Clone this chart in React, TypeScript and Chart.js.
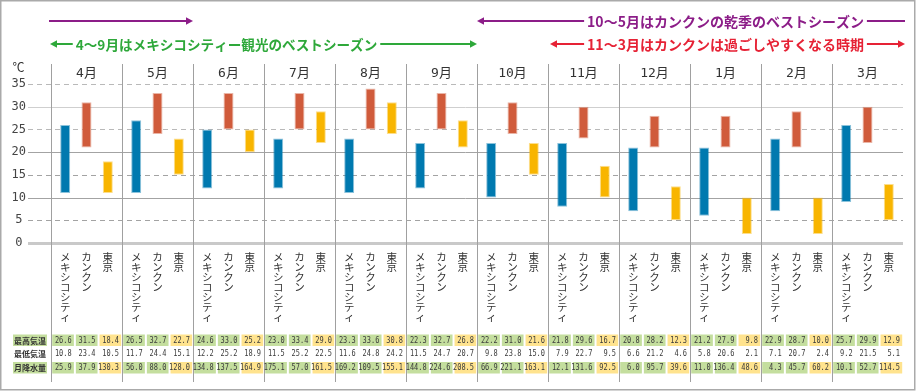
import { useEffect, useRef } from "react";
import { Chart, registerables } from "chart.js";

Chart.register(...registerables);

// ---- data ----
const months = ["4月", "5月", "6月", "7月", "8月", "9月", "10月", "11月", "12月", "1月", "2月", "3月"];
const cities = ["メキシコシティ", "カンクン", "東京"];
const yTicks = [0, 5, 10, 15, 20, 25, 30, 35];

// bar ranges (°C) as drawn
const mexicoLow = [11, 11, 12, 12, 11, 12, 10, 8, 7, 6, 7, 9];
const mexicoHigh = [26, 27, 25, 23, 23, 22, 22, 22, 21, 21, 23, 26];
const cancunLow = [21, 24, 25, 25, 25, 25, 24, 23, 21, 21, 21, 22];
const cancunHigh = [31, 33, 33, 33, 34, 33, 31, 30, 28, 28, 29, 30];
const tokyoLow = [11, 15, 20, 22, 24, 21, 15, 10, 5, 2, 2, 5];
const tokyoHigh = [18, 23, 25, 29, 31, 27, 22, 17, 12.5, 10, 10, 13];

// table values
const rowLabels = ["最高気温", "最低気温", "月降水量"];
const mexicoMax = [26.6, 26.5, 24.6, 23.0, 23.3, 22.3, 22.2, 21.8, 20.8, 21.2, 22.9, 25.7];
const cancunMax = [31.5, 32.7, 33.0, 33.4, 33.6, 32.7, 31.0, 29.6, 28.2, 27.9, 28.7, 29.9];
const tokyoMax = [18.4, 22.7, 25.2, 29.0, 30.8, 26.8, 21.6, 16.7, 12.3, 9.8, 10.0, 12.9];
const mexicoMin = [10.8, 11.7, 12.2, 11.5, 11.6, 11.5, 9.8, 7.9, 6.6, 5.8, 7.1, 9.2];
const cancunMin = [23.4, 24.4, 25.2, 25.2, 24.8, 24.7, 23.8, 22.7, 21.2, 20.6, 20.7, 21.5];
const tokyoMin = [10.5, 15.1, 18.9, 22.5, 24.2, 20.7, 15.0, 9.5, 4.6, 2.1, 2.4, 5.1];
const mexicoRain = [25.9, 56.0, 134.8, 175.1, 169.2, 144.8, 66.9, 12.1, 6.0, 11.0, 4.3, 10.1];
const cancunRain = [37.9, 88.0, 137.5, 57.0, 109.5, 224.6, 221.1, 131.6, 95.7, 136.4, 45.7, 52.7];
const tokyoRain = [130.3, 128.0, 164.9, 161.5, 155.1, 208.5, 163.1, 92.5, 39.6, 48.6, 60.2, 114.5];

const bannerPurple = "10〜5月はカンクンの乾季のベストシーズン";
const bannerGreen = "4〜9月はメキシコシティー観光のベストシーズン";
const bannerRed = "11〜3月はカンクンは過ごしやすくなる時期";

// ---- styles ----
const MONO = '"DejaVu Sans Mono", "Noto Sans CJK JP", monospace';
const JP = '"Noto Sans CJK JP", sans-serif';
const BLUE = "#0079AF";
const ORANGE = "#D05B3B";
const YELLOW = "#F8B500";
const CELL_GREEN = "#C4DE9E";
const CELL_YELLOW = "#FFE38E";
const PURPLE = "#8C1D88";
const GREEN = "#2EA83A";
const RED = "#E62235";

function arrowHead(ctx: CanvasRenderingContext2D, x: number, y: number, dir: number, color: string) {
  ctx.fillStyle = color;
  ctx.beginPath();
  ctx.moveTo(x, y);
  ctx.lineTo(x - dir * 7, y - 3.8);
  ctx.lineTo(x - dir * 7, y + 3.8);
  ctx.closePath();
  ctx.fill();
}

function banner(
  ctx: CanvasRenderingContext2D,
  x1: number,
  x2: number,
  y: number,
  color: string,
  text: string,
  cx: number,
  size: number,
  leftHead: boolean,
  rightHead: boolean
) {
  ctx.save();
  ctx.strokeStyle = color;
  ctx.lineWidth = 2;
  ctx.font = `bold ${size}px ${JP}`;
  const segs: [number, number][] = [];
  if (text) {
    const w = ctx.measureText(text).width;
    const tx = cx - w / 2;
    segs.push([x1 + (leftHead ? 4 : 0), tx - 3]);
    segs.push([tx + w + 3, x2 - (rightHead ? 4 : 0)]);
    ctx.fillStyle = color;
    ctx.textAlign = "center";
    ctx.textBaseline = "middle";
    ctx.fillText(text, cx, y + 1);
  } else {
    segs.push([x1 + (leftHead ? 4 : 0), x2 - (rightHead ? 4 : 0)]);
  }
  for (const [a, b] of segs) {
    ctx.beginPath();
    ctx.moveTo(a, y);
    ctx.lineTo(b, y);
    ctx.stroke();
  }
  if (leftHead) arrowHead(ctx, x1, y, -1, color);
  if (rightHead) arrowHead(ctx, x2, y, 1, color);
  ctx.restore();
}

const overlay = {
  id: "overlay",
  beforeDatasetsDraw(chart: any) {
    const ctx: CanvasRenderingContext2D = chart.ctx;
    const y = chart.scales.y;
    const x = chart.scales.x;
    const area = chart.chartArea;
    const colW = (area.right - area.left) / months.length;
    ctx.save();
    // horizontal grid lines
    for (const v of yTicks) {
      const py = Math.round(y.getPixelForValue(v)) + 0.5;
      ctx.beginPath();
      if (v === 0) {
        ctx.strokeStyle = "#c9c9c9";
        ctx.lineWidth = 3;
        ctx.setLineDash([]);
      } else if (v % 10 === 5) {
        ctx.strokeStyle = v >= 25 ? "#b9b9b9" : "#a3a3a3";
        ctx.lineWidth = 1;
        ctx.setLineDash([5, 4]);
      } else {
        ctx.strokeStyle = v >= 30 ? "#cfcfcf" : "#a3a3a3";
        ctx.lineWidth = 1;
        ctx.setLineDash([]);
      }
      ctx.moveTo(28, py);
      ctx.lineTo(area.right, py);
      ctx.stroke();
    }
    ctx.setLineDash([]);
    // month separators
    ctx.strokeStyle = "#a0a0a0";
    ctx.lineWidth = 1;
    for (let i = 0; i < months.length; i++) {
      const lx = Math.floor(x.getPixelForValue(i) - colW / 2) + 0.5;
      ctx.beginPath();
      ctx.moveTo(lx, 64);
      ctx.lineTo(lx, 382);
      ctx.stroke();
    }
    ctx.restore();
  },
  afterDraw(chart: any) {
    const ctx: CanvasRenderingContext2D = chart.ctx;
    const x = chart.scales.x;
    const area = chart.chartArea;
    const colW = (area.right - area.left) / months.length;
    const colLeft = (i: number) => x.getPixelForValue(i) - colW / 2;
    ctx.save();

    // banners
    banner(ctx, colLeft(0) - 2, colLeft(2), 21, PURPLE, "", 0, 14, false, true);
    banner(ctx, colLeft(6), area.right + 2, 21, PURPLE, bannerPurple, 725.5, 14, true, false);
    banner(ctx, colLeft(0) - 1, colLeft(6), 44, GREEN, bannerGreen, 226.5, 13.6, true, true);
    banner(ctx, colLeft(7) + 2, area.right + 2, 44, RED, bannerRed, 725.5, 14, true, true);

    // unit
    ctx.fillStyle = "#333";
    ctx.font = `12px ${JP}`;
    ctx.textAlign = "center";
    ctx.textBaseline = "middle";
    ctx.fillText("℃", 18.5, 67);

    // vertical city labels
    ctx.font = `10.5px ${JP}`;
    ctx.fillStyle = "#333";
    ctx.textAlign = "center";
    ctx.textBaseline = "top";
    for (let d = 0; d < cities.length; d++) {
      const meta = chart.getDatasetMeta(d);
      const chars = Array.from(cities[d]);
      for (let i = 0; i < months.length; i++) {
        const bx = meta.data[i].x;
        chars.forEach((ch, k) => ctx.fillText(ch, bx, 252 + k * 10));
      }
    }

    // table
    const rowTop = [334.5, 348, 362];
    const rowH = 11.5;
    const rows = [
      [mexicoMax, cancunMax, tokyoMax],
      [mexicoMin, cancunMin, tokyoMin],
      [mexicoRain, cancunRain, tokyoRain],
    ];
    for (let r = 0; r < 3; r++) {
      const top = rowTop[r];
      const cy = top + rowH / 2;
      if (r !== 1) {
        ctx.fillStyle = CELL_GREEN;
        ctx.fillRect(13, top, 34, rowH);
      }
      ctx.fillStyle = "#333";
      ctx.font = `bold 8px ${JP}`;
      ctx.textAlign = "center";
      ctx.textBaseline = "middle";
      ctx.fillText(rowLabels[r], 30, cy + 0.5);
      for (let i = 0; i < months.length; i++) {
        const left = colLeft(i);
        for (let c = 0; c < 3; c++) {
          const a = left + (c * colW) / 3 + 1.2;
          const b = left + ((c + 1) * colW) / 3 - 0.8;
          if (r !== 1) {
            ctx.fillStyle = c === 2 ? CELL_YELLOW : CELL_GREEN;
            ctx.fillRect(a, top, b - a, rowH);
          }
          ctx.save();
          ctx.translate(b - 2.2, cy + 0.5);
          ctx.scale(0.82, 1);
          ctx.fillStyle = "#3a3a3a";
          ctx.font = `8.5px ${MONO}`;
          ctx.textAlign = "right";
          ctx.textBaseline = "middle";
          ctx.fillText(rows[r][c][i].toFixed(1), 0, 0);
          ctx.restore();
        }
      }
    }

    // outer frame
    ctx.strokeStyle = "#aaaaaa";
    ctx.lineWidth = 1.5;
    ctx.strokeRect(0.75, 0.75, 914, 389);
    ctx.restore();
  },
};

export default function App() {
  const ref = useRef<HTMLCanvasElement>(null);
  useEffect(() => {
    const canvas = ref.current;
    if (!canvas) return;
    const mk = (label: string, lo: number[], hi: number[], color: string, edge: string) => ({
      label,
      data: lo.map((v, i) => [v, hi[i]]),
      backgroundColor: color,
      borderColor: edge,
      borderWidth: 1,
      borderSkipped: false,
      categoryPercentage: 0.9,
      barPercentage: 0.47,
    });
    const chart = new Chart(canvas, {
      type: "bar",
      data: {
        labels: months,
        datasets: [
          mk(cities[0], mexicoLow, mexicoHigh, BLUE, "rgba(0,121,175,0.45)"),
          mk(cities[1], cancunLow, cancunHigh, ORANGE, "rgba(208,91,59,0.45)"),
          mk(cities[2], tokyoLow, tokyoHigh, YELLOW, "rgba(248,181,0,0.45)"),
        ] as any,
      },
      options: {
        responsive: false,
        animation: false,
        devicePixelRatio: 1,
        layout: { padding: { left: 0, right: 15, top: 64, bottom: 148 } },
        plugins: { legend: { display: false }, tooltip: { enabled: false } },
        scales: {
          x: {
            position: "top",
            grid: { display: false, drawTicks: false },
            border: { display: false },
            ticks: {
              font: { family: MONO, size: 13 },
              color: "#333",
              padding: 3,
              maxRotation: 0,
              autoSkip: false,
            },
            afterFit: (s: any) => {
              s.height = 20;
            },
          },
          y: {
            min: 0,
            max: 35,
            grid: { display: false, drawTicks: false },
            border: { display: false },
            ticks: {
              stepSize: 5,
              font: { family: MONO, size: 12 },
              color: "#444",
              crossAlign: "center",
              padding: 25,
            },
            afterFit: (s: any) => {
              s.width = 51;
            },
          },
        },
      },
      plugins: [overlay],
    });
    return () => chart.destroy();
  }, []);
  return (
    <div style={{ width: 918, height: 391, position: "relative" }}>
      <style>{"body{margin:0}"}</style>
      <canvas ref={ref} width={918} height={391} style={{ display: "block", width: 918, height: 391 }} />
    </div>
  );
}
